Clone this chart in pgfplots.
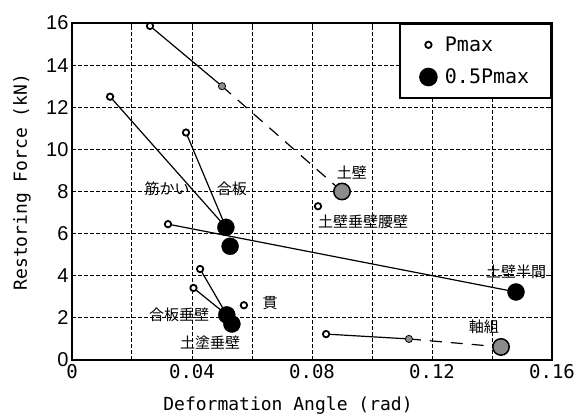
\documentclass[border=0pt]{standalone}
\usepackage{fontspec}
\setmainfont{Liberation Sans}
\newfontfamily\jp{Noto Sans CJK JP}
\newfontfamily\mono{DejaVu Sans Mono}
\usepackage{pgfplots}
\pgfplotsset{compat=1.18}
\definecolor{midgray}{HTML}{8C8C8C}
\begin{document}
\begin{tikzpicture}
\begin{axis}[name=ax, scale only axis, width=480bp, height=337bp,
  xmin=0, xmax=0.16, ymin=0, ymax=16,
  xtick={0,0.04,0.08,0.12,0.16}, xticklabels={0,0.04,0.08,0.12,0.16},
  minor xtick={0.02,0.06,0.10,0.14},
  ytick={0,2,...,16}, yticklabels={0,2,4,6,8,10,12,14,16},
  grid=both,
  major grid style={black, line width=1bp, dash pattern=on 4bp off 2bp},
  minor grid style={black, line width=1bp, dash pattern=on 4bp off 2bp},
  axis line style={line width=1.6bp},
  tick style={black, line width=1bp}, tick align=inside,
  major tick length=4bp, minor tick length=4bp,
  xticklabel style={font=\mono\fontsize{19bp}{19bp}\selectfont, yshift=-1bp},
  yticklabel style={font=\fontsize{20bp}{20bp}\selectfont},
  xlabel={Deformation Angle (rad)}, ylabel={Restoring Force (kN)},
  xlabel style={font=\mono\fontsize{18bp}{18bp}\selectfont, at={(axis description cs:0.45,-0.134)}, anchor=center},
  ylabel style={font=\mono\fontsize{18bp}{18bp}\selectfont, at={(axis description cs:-0.104,0.528)}, anchor=center},
  legend style={at={(1,1)}, anchor=north east, draw=black, line width=1.6bp,
    font=\mono\fontsize{20bp}{20bp}\selectfont, inner xsep=20bp, inner ysep=11bp,
    row sep=12bp, column sep=6bp},
  legend cell align=left,
]
% connecting lines
\addplot[forget plot, black, line width=1.2bp] coordinates {(0.026,15.86) (0.050,13.0)};
\addplot[forget plot, black, line width=1.2bp, dash pattern=on 12bp off 9bp] coordinates {(0.050,13.0) (0.090,8.0)};
\addplot[forget plot, black, line width=1.2bp] coordinates {(0.0127,12.5) (0.0513,6.3)};
\addplot[forget plot, black, line width=1.2bp] coordinates {(0.038,10.8) (0.0513,6.3)};
\addplot[forget plot, black, line width=1.2bp] coordinates {(0.032,6.45) (0.148,3.23)};
\addplot[forget plot, black, line width=1.2bp] coordinates {(0.0427,4.32) (0.0516,2.14)};
\addplot[forget plot, black, line width=1.2bp] coordinates {(0.0405,3.42) (0.0516,2.14)};
\addplot[forget plot, black, line width=1.2bp] coordinates {(0.0847,1.23) (0.1123,1.0)};
\addplot[forget plot, black, line width=1.2bp, dash pattern=on 12bp off 9bp] coordinates {(0.1123,1.0) (0.143,0.62)};
% markers
\addplot[forget plot, only marks, mark=*, mark size=3.2bp, mark options={fill=white, draw=black, line width=1.8bp}]
  coordinates {(0.026,15.86) (0.0127,12.5) (0.038,10.8) (0.032,6.45) (0.0427,4.32) (0.0405,3.42) (0.0573,2.6) (0.082,7.3) (0.0847,1.23)};
\addplot[forget plot, only marks, mark=*, mark size=3.6bp, mark options={fill=midgray, draw=black, line width=0.8bp}]
  coordinates {(0.050,13.0) (0.1123,1.0)};
\addplot[forget plot, only marks, mark=*, mark size=8.5bp, mark options={fill=black, draw=black}]
  coordinates {(0.0513,6.3) (0.0527,5.4) (0.148,3.23) (0.0516,2.14) (0.0533,1.71)};
\addplot[forget plot, only marks, mark=*, mark size=8.2bp, mark options={fill=midgray, draw=black, line width=1.5bp}]
  coordinates {(0.090,8.0) (0.143,0.62)};
% legend
\addlegendimage{only marks, mark=*, mark size=3.2bp, mark options={fill=white, draw=black, line width=1.8bp}}
\addlegendentry{Pmax}
\addlegendimage{only marks, mark=*, mark size=8.5bp, mark options={fill=black}}
\addlegendentry{0.5Pmax}
% labels
\begin{scope}[every node/.style={font=\jp\fontsize{15bp}{15bp}\selectfont, inner sep=0pt}]
\node at (axis cs:0.0317,8.12) {筋かい};
\node at (axis cs:0.0533,8.12) {合板};
\node at (axis cs:0.0933,8.88) {土壁};
\node at (axis cs:0.097,6.55) {土壁垂壁腰壁};
\node at (axis cs:0.148,4.18) {土壁半間};
\node at (axis cs:0.1373,1.57) {軸組};
\node at (axis cs:0.0357,2.14) {合板垂壁};
\node at (axis cs:0.046,0.85) {土塗垂壁};
\node at (axis cs:0.066,2.7) {貫};
\end{scope}
\end{axis}
\pgfresetboundingbox
\path[use as bounding box] ([shift={(-72bp,-59bp)}]ax.south west) rectangle ([shift={(30bp,23bp)}]ax.north east);
\end{tikzpicture}
\end{document}
